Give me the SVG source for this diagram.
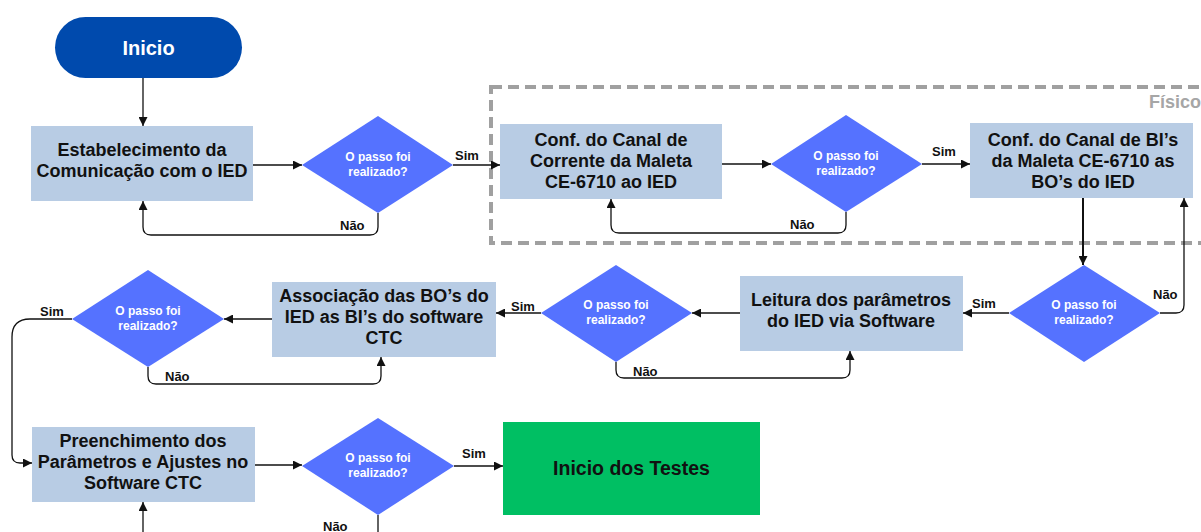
<svg xmlns="http://www.w3.org/2000/svg" width="1201" height="532" viewBox="0 0 1201 532">
<style>
text{font-family:"Liberation Sans",Arial,sans-serif;font-weight:bold}
.box{fill:#B8CCE4}
.dia{fill:#5572FF}
.bt{font-size:18px;fill:#111;text-anchor:middle}
.dt{font-size:12px;fill:#fff;text-anchor:middle}
.lb{font-size:13px;fill:#111}
.con path{fill:none;stroke:#111;stroke-width:1.3;marker-end:url(#ah)}
</style>
<defs>
<marker id="ah" viewBox="0 0 10 10" refX="10" refY="5" markerWidth="9" markerHeight="9" markerUnits="userSpaceOnUse" orient="auto">
<path d="M0,0 L10,5 L0,10 z" fill="#111"/>
</marker>
</defs>
<rect width="1201" height="532" fill="#fff"/>
<g id="fisico">
<rect x="491" y="87" width="740" height="156" fill="none" stroke="#A0A0A0" stroke-width="4" stroke-dasharray="11 6"/>
<text x="1201" y="108" font-size="18" fill="#A6A6A6" text-anchor="end">Físico</text>
</g>
<g id="inicio">
<rect x="55" y="17" width="187" height="61" rx="30.5" fill="#004AAD"/>
<text x="148.5" y="55" font-size="20" fill="#fff" text-anchor="middle">Inicio</text>
</g>
<g id="n1">
<rect class="box" x="31" y="126" width="222" height="75"/>
<text class="bt" x="142" y="156">Estabelecimento da</text>
<text class="bt" x="142" y="177">Comunicação com o IED</text>
</g>
<g id="d1">
<polygon class="dia" points="302,165 378,116 453,165 378,213"/>
<text class="dt" x="378" y="161">O passo foi</text>
<text class="dt" x="378" y="176">realizado?</text>
</g>
<g id="n2">
<rect class="box" x="500" y="124" width="222" height="75"/>
<text class="bt" x="611" y="146">Conf. do Canal de</text>
<text class="bt" x="611" y="167">Corrente da Maleta</text>
<text class="bt" x="611" y="188">CE-6710 ao IED</text>
</g>
<g id="d2">
<polygon class="dia" points="771,164 846,115 922,164 846,212"/>
<text class="dt" x="846" y="160">O passo foi</text>
<text class="dt" x="846" y="175">realizado?</text>
</g>
<g id="n3">
<rect class="box" x="970" y="123" width="223" height="75"/>
<text class="bt" x="1083" y="146">Conf. do Canal de BI’s</text>
<text class="bt" x="1083" y="167">da Maleta CE-6710 as</text>
<text class="bt" x="1083" y="188">BO’s do IED</text>
</g>
<g id="d4">
<polygon class="dia" points="1009,313 1084,265 1160,313 1084,362"/>
<text class="dt" x="1084" y="309">O passo foi</text>
<text class="dt" x="1084" y="324">realizado?</text>
</g>
<g id="n4">
<rect class="box" x="740" y="276" width="223" height="75"/>
<text class="bt" x="851" y="306">Leitura dos parâmetros</text>
<text class="bt" x="851" y="327">do IED via Software</text>
</g>
<g id="d5">
<polygon class="dia" points="541,313 616,265 692,313 616,362"/>
<text class="dt" x="616" y="309">O passo foi</text>
<text class="dt" x="616" y="324">realizado?</text>
</g>
<g id="n5">
<rect class="box" x="272" y="282" width="224" height="75"/>
<text class="bt" x="384" y="302">Associação das BO’s do</text>
<text class="bt" x="384" y="323">IED as BI’s do software</text>
<text class="bt" x="384" y="344">CTC</text>
</g>
<g id="d6">
<polygon class="dia" points="72,319 148,270 224,319 148,367"/>
<text class="dt" x="148" y="315">O passo foi</text>
<text class="dt" x="148" y="330">realizado?</text>
</g>
<g id="n6">
<rect class="box" x="32" y="427" width="223" height="75"/>
<text class="bt" x="143" y="447">Preenchimento dos</text>
<text class="bt" x="143" y="468">Parâmetros e Ajustes no</text>
<text class="bt" x="143" y="489">Software CTC</text>
</g>
<g id="d7">
<polygon class="dia" points="302,466 378,418 454,466 378,515"/>
<text class="dt" x="378" y="462">O passo foi</text>
<text class="dt" x="378" y="477">realizado?</text>
</g>
<g id="fim">
<rect x="503" y="422" width="257" height="93" fill="#00BF63"/>
<text x="631.5" y="475" font-size="19.5" fill="#111" text-anchor="middle">Inicio dos Testes</text>
</g>
<g id="connectors" class="con">
<path d="M143,78 V126"/>
<path d="M253,165 H302"/>
<path d="M378,213 V227 Q378,235 370,235 H151 Q143,235 143,227 V201"/>
<path d="M453,165 H500"/>
<path d="M722,164 H771"/>
<path d="M846,212 V225 Q846,233 838,233 H619 Q611,233 611,225 V199"/>
<path d="M922,164 H970"/>
<path d="M1083,198 V265" style="stroke-width:2"/>
<path d="M1160,313 H1176 Q1184,313 1184,305 V198"/>
<path d="M1009,313 H963"/>
<path d="M740,313 H692"/>
<path d="M616,362 V370 Q616,378 624,378 H842 Q850,378 850,370 V351"/>
<path d="M541,313 H496"/>
<path d="M272,319 H224"/>
<path d="M148,367 V376 Q148,384 156,384 H373 Q381,384 381,376 V357"/>
<path d="M72,319 H30 Q12,319 12,337 V455 Q12,463 20,463 H32"/>
<path d="M255,465 H302"/>
<path d="M454,466 H503"/>
<path d="M378,515 V535 Q378,543 370,543 H151 Q143,543 143,535 V502"/>
</g>
<g id="labels">
<text class="lb" x="340" y="230">Não</text>
<text class="lb" x="455" y="160">Sim</text>
<text class="lb" x="790" y="229">Não</text>
<text class="lb" x="932" y="156">Sim</text>
<text class="lb" x="1153" y="299">Não</text>
<text class="lb" x="972" y="308">Sim</text>
<text class="lb" x="633" y="376">Não</text>
<text class="lb" x="511" y="311">Sim</text>
<text class="lb" x="165" y="381">Não</text>
<text class="lb" x="40" y="316">Sim</text>
<text class="lb" x="462" y="458">Sim</text>
<text class="lb" x="323" y="531">Não</text>
</g>
</svg>
